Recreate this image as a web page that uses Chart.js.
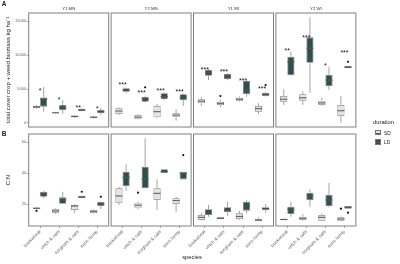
<!DOCTYPE html>
<html>
<head>
<meta charset="utf-8">
<script src="https://cdn.jsdelivr.net/npm/chart.js@4.4.0/dist/chart.umd.min.js"></script>
<style>
  body { margin: 0; background: #fff; }
  #wrap { position: relative; width: 400px; height: 264px; overflow: hidden; font-family: "Liberation Sans", Arial, sans-serif; }
  canvas { position: absolute; left: 0; top: 0; }
  .txt { position: absolute; white-space: nowrap; color: #222; }
  .key { position: absolute; box-sizing: border-box; border: 0.8px solid #777; }
</style>
</head>
<body>
<div id="wrap"></div>
<script>
// Facets, categories and groups
const sites = ['Y1 MN', 'Y2 MN', 'Y1 WI', 'Y2 WI'];
const species = ['buckwheat', 'vetch & oats', 'sorghum & oats', 'sunn hemp'];

// Panel A: total cover crop + weed biomass, [min, q1, median, q3, max] per site / species
const biomassSD = [
  [[2100, 2250, 2350, 2500, 2650], [1350, 1450, 1500, 1560, 1650], [700, 850, 950, 1100, 1200], [650, 780, 850, 950, 1050]],
  [[1150, 1320, 1760, 2160, 2300], [500, 540, 850, 1180, 1300], [690, 840, 1660, 2500, 2790], [340, 840, 1150, 1430, 2010]],
  [[2500, 2900, 3200, 3480, 3780], [2300, 2650, 2900, 3130, 3450], [3150, 3280, 3500, 3720, 3900], [1320, 1660, 2100, 2500, 2900]],
  [[2650, 3130, 3500, 3970, 4960], [2650, 3280, 3700, 4220, 4600], [2500, 2650, 2950, 3280, 3700], [40, 1030, 1800, 2650, 3970]]
];
const biomassLD = [
  [[1650, 2400, 3500, 3750, 5300], [1350, 1900, 2250, 2650, 3350], [1700, 1750, 1900, 2100, 2150], [1200, 1450, 1650, 1900, 2200]],
  [[4400, 4600, 4850, 5100, 5200], [3000, 3130, 3530, 3870, 4000], [3300, 3480, 3900, 4370, 4500], [2500, 3380, 3800, 4220, 4350]],
  [[6320, 6960, 7400, 7790, 7900], [6300, 6470, 6800, 7200, 7300], [3870, 4260, 4850, 6220, 6300], [3900, 3970, 4200, 4460, 4550]],
  [[6950, 7060, 9000, 9750, 10490], [4460, 8870, 11000, 12600, 15540], [4850, 5440, 6300, 7060, 8280], [8040, 8080, 8200, 8380, 8400]]
];
// outliers: [site, species, value]
const biomassOutSD = [[2, 1, 3970]];
const biomassOutLD = [[1, 1, 5250], [2, 3, 5590], [3, 3, 9010]];
// significance labels and their heights
const biomassStars = [
  ['*', '*', '**', '*'],
  ['***', '***', '***', '***'],
  ['***', '***', '***', '***'],
  ['**', '***', '*', '***']
];
const biomassStarAt = [
  [5000, 3630, 2540, 2400],
  [5840, 4710, 4960, 4850],
  [8130, 7790, 6400, 5250],
  [10840, 12790, 8680, 10590]
];
const biomassTicks = [0, 5000, 10000, 15000];
const biomassRange = [-590, 16180];

// Panel B: C:N ratio
const cnSD = [
  [[16.5, 17.0, 17.3, 17.6, 18.0], [13.5, 14.4, 15.5, 16.6, 17.2], [14.0, 16.1, 18.7, 19.4, 20.0], [13.8, 14.0, 15.0, 16.1, 16.5]],
  [[19.4, 20.8, 25.2, 30.1, 31.2], [16.5, 17.2, 19.2, 20.8, 21.5], [16.1, 22.6, 26.9, 30.1, 35.9], [15.0, 20.0, 22.2, 23.7, 24.7]],
  [[9.2, 9.7, 11.4, 12.9, 14.4], [10.1, 10.1, 10.8, 11.4, 11.4], [9.7, 10.3, 12.0, 14.0, 15.7], [9.2, 9.2, 9.6, 10.1, 11.4]],
  [[9.5, 9.7, 10.0, 10.5, 10.7], [9.2, 9.7, 10.8, 11.8, 13.5], [9.0, 9.2, 11.4, 12.9, 14.0], [9.0, 9.2, 10.3, 11.4, 11.8]]
];
const cnLD = [
  [[23.7, 24.7, 26.5, 27.9, 28.6], [20.0, 20.2, 22.6, 24.3, 27.9], [23.7, 23.9, 24.5, 25.2, 25.4], [16.6, 18.7, 20.0, 21.3, 21.5]],
  [[28.6, 31.6, 37.2, 40.8, 45.6], [30.1, 30.1, 36.0, 44.1, 62.4], [39.8, 39.8, 41.0, 42.4, 42.4], [35.9, 35.9, 39.8, 40.8, 40.8]],
  [[11.8, 12.9, 14.8, 16.6, 19.4], [12.3, 14.6, 16.1, 17.9, 21.5], [14.0, 15.7, 18.7, 21.5, 22.6], [14.4, 16.1, 17.0, 17.9, 20.0]],
  [[11.8, 13.5, 16.6, 18.3, 21.5], [18.3, 22.6, 25.2, 27.3, 29.5], [17.9, 18.7, 22.6, 25.8, 33.7], [17.0, 17.0, 17.8, 18.7, 18.7]]
];
const cnOutSD = [[0, 0, 15.6], [1, 1, 27.3], [3, 3, 17.0]];
const cnOutLD = [[0, 2, 27.9], [0, 3, 24.7], [1, 3, 51.6], [3, 3, 14.4]];
const cnTicks = [20, 40, 60];
const cnRange = [5.8, 65.2];

// Colours
const SD_FILL = '#e4e4e4';
const LD_FILL = '#2f4f4f';
const BOX_LINE = '#7a7a7a';
const WHISKER = '#8c8c8c';
const MEDIAN = '#555555';
const FRAME = '#808080';
const TICK_TEXT = '#666666';

Chart.defaults.font.family = '"Liberation Sans", Arial, sans-serif';

const wrap = document.getElementById('wrap');
const frameLeft = [28.7, 111.1, 193.5, 275.9];
const frameW = 80;

const rows = [
  { top: 13, bottom: 127, sd: biomassSD, ld: biomassLD, outSD: biomassOutSD, outLD: biomassOutLD,
    stars: biomassStars, starAt: biomassStarAt, ticks: biomassTicks, range: biomassRange,
    title: 'total cover crop + weed biomass kg ha\u207B\u00B9' },
  { top: 134, bottom: 226, sd: cnSD, ld: cnLD, outSD: cnOutSD, outLD: cnOutLD,
    stars: null, starAt: null, ticks: cnTicks, range: cnRange, title: 'C:N' }
];

// Draws whiskers, medians, outliers, stars, the panel frame and strip label
function makeDecor(row, r, col) {
  return {
    id: 'decor',
    afterDatasetsDraw(chart) {
      const ctx = chart.ctx;
      const area = chart.chartArea;
      const xs = chart.scales.x;
      const ys = chart.scales.y;
      ctx.save();
      [row.sd[col], row.ld[col]].forEach((boxes, d) => {
        const meta = chart.getDatasetMeta(d);
        boxes.forEach((b, i) => {
          const bar = meta.data[i];
          const cx = bar.x;
          const half = bar.width / 2;
          ctx.strokeStyle = WHISKER;
          ctx.lineWidth = 0.8;
          ctx.beginPath();
          ctx.moveTo(cx, ys.getPixelForValue(b[3]));
          ctx.lineTo(cx, ys.getPixelForValue(b[4]));
          ctx.moveTo(cx, ys.getPixelForValue(b[1]));
          ctx.lineTo(cx, ys.getPixelForValue(b[0]));
          ctx.stroke();
          const my = ys.getPixelForValue(b[2]);
          ctx.strokeStyle = MEDIAN;
          ctx.lineWidth = 1;
          ctx.beginPath();
          ctx.moveTo(cx - half, my);
          ctx.lineTo(cx + half, my);
          ctx.stroke();
        });
        const outs = d === 0 ? row.outSD : row.outLD;
        ctx.fillStyle = '#111';
        outs.filter(o => o[0] === col).forEach(o => {
          const bar = meta.data[o[1]];
          ctx.beginPath();
          ctx.arc(bar.x, ys.getPixelForValue(o[2]), 1.1, 0, Math.PI * 2);
          ctx.fill();
        });
      });

      if (row.stars) {
        ctx.fillStyle = '#111';
        ctx.font = '7px "Liberation Sans", Arial, sans-serif';
        ctx.textAlign = 'center';
        ctx.textBaseline = 'alphabetic';
        row.stars[col].forEach((s, i) => {
          ctx.fillText(s, xs.getPixelForValue(i + 1), ys.getPixelForValue(row.starAt[col][i]) + 4);
        });
      }

      ctx.strokeStyle = FRAME;
      ctx.lineWidth = 1;
      ctx.strokeRect(area.left, area.top, area.width, area.height);

      if (r === 0) {
        ctx.fillStyle = '#333';
        ctx.font = '4.3px "Liberation Sans", Arial, sans-serif';
        ctx.textAlign = 'center';
        ctx.textBaseline = 'middle';
        ctx.fillText(sites[col], (area.left + area.right) / 2, area.top - 4.6);
      }
      ctx.restore();
    }
  };
}

function makePanel(row, r, col) {
  const canvas = document.createElement('canvas');
  canvas.width = 400;
  canvas.height = 264;
  wrap.appendChild(canvas);

  const left = frameLeft[col];
  const showY = col === 0;
  const showX = r === 1;
  const yAxisW = showY ? left - 4 : 0;
  const xAxisH = showX ? 30 : 0;
  const padding = {
    left: showY ? 4 : left,
    right: 400 - (left + frameW),
    top: row.top,
    bottom: 264 - row.bottom - xAxisH
  };

  new Chart(canvas, {
    type: 'bar',
    data: {
      datasets: [
        { label: 'SD', data: row.sd[col].map((b, i) => ({ x: i + 1, y: [b[1], b[3]] })),
          backgroundColor: SD_FILL, borderColor: BOX_LINE, borderWidth: 0.8, borderSkipped: false },
        { label: 'LD', data: row.ld[col].map((b, i) => ({ x: i + 1, y: [b[1], b[3]] })),
          backgroundColor: LD_FILL, borderColor: BOX_LINE, borderWidth: 0.8, borderSkipped: false }
      ]
    },
    options: {
      responsive: false,
      animation: false,
      devicePixelRatio: 1,
      categoryPercentage: 0.75,
      barPercentage: 1,
      layout: { padding },
      plugins: { legend: { display: false }, tooltip: { enabled: false } },
      scales: {
        x: {
          type: 'linear',
          min: 0.4,
          max: 4.6,
          offset: false,
          display: showX,
          afterBuildTicks: s => { s.ticks = species.map((_, i) => ({ value: i + 1 })); },
          afterFit: s => { s.height = xAxisH; },
          ticks: {
            autoSkip: false, maxRotation: 45, minRotation: 45, padding: 1,
            color: TICK_TEXT, font: { size: 4.6 },
            callback: v => species[v - 1]
          },
          grid: { offset: false, drawOnChartArea: false, drawTicks: true, tickLength: 2, color: FRAME, lineWidth: 0.7 },
          border: { display: false }
        },
        y: {
          min: row.range[0],
          max: row.range[1],
          display: showY,
          afterBuildTicks: s => { s.ticks = row.ticks.map(v => ({ value: v })); },
          afterFit: s => { s.width = yAxisW; },
          ticks: { padding: 0.6, color: TICK_TEXT, font: { size: 4 }, callback: v => String(v) },
          grid: { drawOnChartArea: false, drawTicks: true, tickLength: 2, color: FRAME, lineWidth: 0.7 },
          border: { display: false },
          title: { display: true, text: row.title, color: '#222', font: { size: 6 }, padding: { top: 1, bottom: 0 } }
        }
      }
    },
    plugins: [makeDecor(row, r, col)]
  });
}

rows.forEach((row, r) => sites.forEach((s, col) => makePanel(row, r, col)));

// Small text labels outside the plot panels
function addText(text, x, y, size, opts = {}) {
  const el = document.createElement('div');
  el.className = 'txt';
  el.textContent = text;
  el.style.left = x + 'px';
  el.style.top = y + 'px';
  el.style.fontSize = '20px';
  el.style.lineHeight = '20px';
  const k = size / 20;
  if (opts.anchor === 'left') {
    el.style.transformOrigin = 'left center';
    el.style.transform = `translateY(-50%) scale(${k})`;
  } else {
    el.style.transform = `translate(-50%, -50%) scale(${k})`;
  }
  if (opts.bold) el.style.fontWeight = 'bold';
  wrap.appendChild(el);
}

function addKey(x, y, fill) {
  const el = document.createElement('div');
  el.className = 'key';
  el.style.left = x + 'px';
  el.style.top = y + 'px';
  el.style.width = '5.8px';
  el.style.height = '5.8px';
  el.style.background = fill;
  const med = document.createElement('div');
  med.style.cssText = `position:absolute;left:0;right:0;top:2px;height:0.8px;background:${MEDIAN}`;
  el.appendChild(med);
  wrap.appendChild(el);
}

addText('A', 3.6, 4.3, 6.5, { bold: true });
addText('B', 4, 134.3, 6.5, { bold: true });
addText('species', 192.3, 256.7, 5.8);
addText('duration', 373, 121.7, 5.8, { anchor: 'left' });
addKey(375, 129.6, SD_FILL);
addText('SD', 383.5, 132.5, 4.8, { anchor: 'left' });
addKey(375, 139.2, LD_FILL);
addText('LD', 383.5, 142.1, 4.8, { anchor: 'left' });
</script>
</body>
</html>
